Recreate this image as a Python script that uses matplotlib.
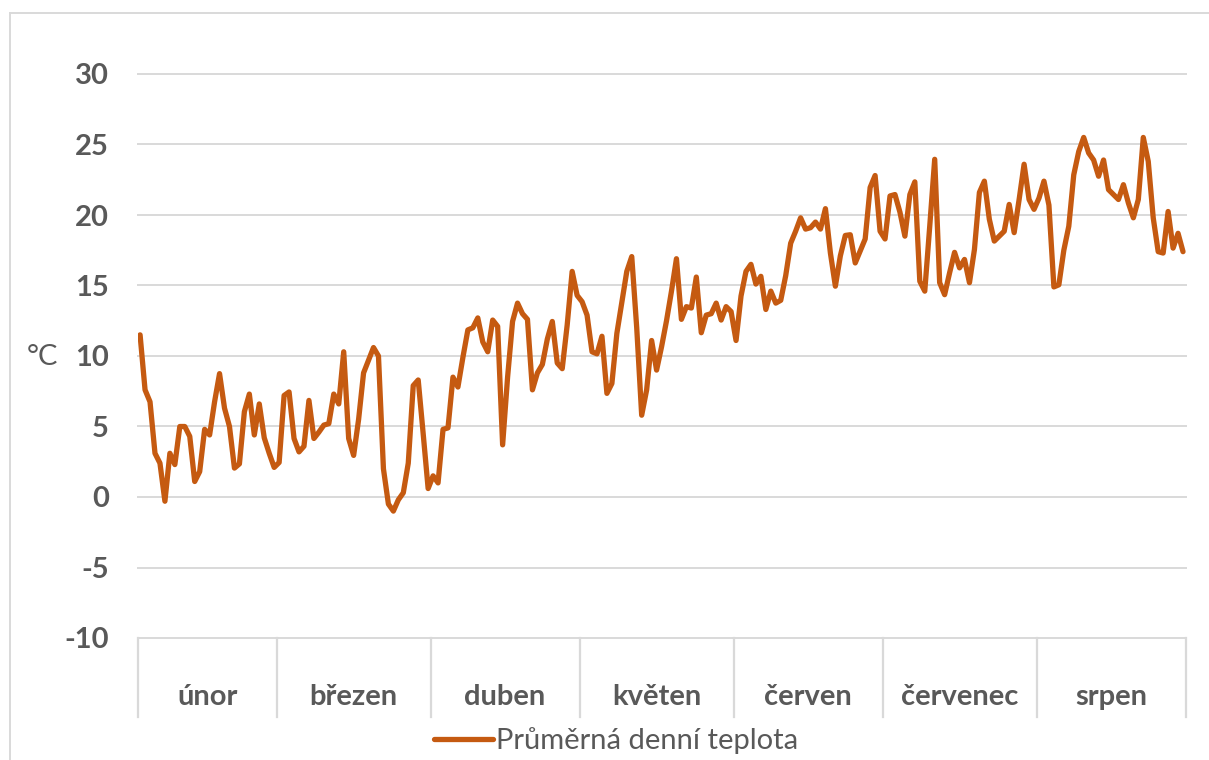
import matplotlib
matplotlib.use("Agg")
import matplotlib.pyplot as plt
import numpy as np
from matplotlib.transforms import blended_transform_factory

plt.rcParams['font.family'] = ['Lato', 'DejaVu Sans']

# ---- data ----
months = ["únor", "březen", "duben", "květen", "červen", "červenec", "srpen"]
feb = [11.5, 7.6, 6.75, 3.1, 2.4, -0.3, 3.1, 2.3, 5.0, 5.0, 4.3, 1.1, 1.8, 4.8,
       4.4, 6.75, 8.75, 6.3, 5.0, 2.05, 2.35, 6.05, 7.3, 4.4, 6.6, 4.2, 3.1, 2.1]
mar = [2.45, 7.2, 7.45, 4.15, 3.2, 3.6, 6.85, 4.15, 4.6, 5.1, 5.2, 7.3, 6.6, 10.3,
       4.15, 2.95, 5.5, 8.8, 9.7, 10.6, 10.0, 2.0, -0.5, -1.0, -0.2, 0.3, 2.4, 7.9,
       8.3, 4.5, 0.6]
apr = [1.5, 1.0, 4.8, 4.9, 8.5, 7.8, 9.9, 11.85, 12.0, 12.7, 11.0, 10.3, 12.55, 12.1,
       3.7, 8.5, 12.45, 13.75, 13.0, 12.6, 7.6, 8.8, 9.4, 11.2, 12.45, 9.5, 9.1, 12.2,
       16.0, 14.3]
may = [13.85, 12.9, 10.3, 10.15, 11.4, 7.35, 8.05, 11.6, 13.8, 16.0, 17.05, 12.0, 5.8,
       7.6, 11.1, 9.0, 10.65, 12.5, 14.6, 16.9, 12.6, 13.5, 13.4, 15.6, 11.65, 12.9,
       13.0, 13.75, 12.55, 13.5, 13.15]
jun = [11.1, 14.25, 16.0, 16.5, 15.1, 15.65, 13.3, 14.6, 13.75, 13.95, 15.7, 18.0,
       18.85, 19.8, 19.0, 19.1, 19.5, 19.0, 20.45, 17.3, 14.95, 17.1, 18.55, 18.6,
       16.6, 17.45, 18.3, 21.95, 22.8, 18.85]
jul = [18.3, 21.35, 21.45, 20.2, 18.5, 21.45, 22.35, 15.3, 14.6, 19.2, 23.95, 15.2,
       14.35, 15.9, 17.35, 16.25, 16.85, 15.2, 17.55, 21.6, 22.4, 19.7, 18.15, 18.5,
       18.85, 20.75, 18.75, 21.1, 23.6, 21.1, 20.4]
aug = [21.2, 22.4, 20.7, 14.9, 15.05, 17.5, 19.2, 22.85, 24.5, 25.5, 24.4, 23.9, 22.75,
       23.9, 21.8, 21.45, 21.1, 22.15, 20.85, 19.8, 21.1, 25.5, 23.8, 19.8, 17.4, 17.3,
       20.25, 17.65, 18.7, 17.4]
series_name = "Průměrná denní teplota"
y_ticks = [-10, -5, 0, 5, 10, 15, 20, 25, 30]
y_unit = "°C"

month_data = [feb, mar, apr, may, jun, jul, aug]
values = np.concatenate(month_data)
month_lengths = [len(m) for m in month_data]

# ---- styling ----
LINE_C = '#C55A11'
GRID_C = '#D9D9D9'
TEXT_C = '#595959'
FS = 21

W, H = 1209, 760
fig = plt.figure(figsize=(W / 100, H / 100), dpi=100)
ax = fig.add_axes([137.6 / W, 1 - 638 / H, (1185.5 - 137.6) / W, (638 - 74) / H])

x = np.arange(len(values))
line, = ax.plot(x, values, color=LINE_C, lw=3.8, solid_joinstyle='round',
                solid_capstyle='round', zorder=3, label=series_name)

ax.set_xlim(-0.5, len(values) - 0.5)
ax.set_ylim(y_ticks[0], y_ticks[-1])
ax.set_yticks(y_ticks)
ax.set_yticklabels([str(t) for t in y_ticks])
for t in y_ticks:
    ax.axhline(t, color=GRID_C, lw=1.4, zorder=1, clip_on=False)
for s in ax.spines.values():
    s.set_visible(False)
ax.set_xticks([])
ax.tick_params(axis='y', length=0, pad=20.5, labelsize=FS, labelcolor=TEXT_C)
for lab in ax.get_yticklabels():
    lab.set_fontweight('bold')

# category box with month labels
trans = blended_transform_factory(ax.transData, ax.transAxes)
bounds = np.concatenate([[0], np.cumsum(month_lengths)]) - 0.5
box_h = (717 - 638) / (638 - 74)
for b in bounds:
    ax.plot([b, b], [0, -box_h], transform=trans, color=GRID_C, lw=1.6,
            clip_on=False, zorder=1)
lab_y = -(697 - 638) / (638 - 74)
for i, name in enumerate(months):
    ax.text((bounds[i] + bounds[i + 1]) / 2, lab_y, name, transform=trans,
            ha='center', va='center', fontsize=FS, fontweight='bold', color=TEXT_C)

# unit label
fig.text(43 / W, 1 - 357 / H, y_unit, ha='center', va='center', fontsize=FS,
         color=TEXT_C)

# legend
fig.legend(handles=[line], labels=[series_name], loc='center',
           bbox_to_anchor=(616 / W, 1 - 741 / H), frameon=False, fontsize=FS,
           handlelength=2.0, handletextpad=0.1, labelcolor=TEXT_C,
           borderpad=0, borderaxespad=0)

# outer chart border (left and top visible)
fig.add_artist(plt.Line2D([10 / W, 10 / W], [0, 1 - 13 / H], color=GRID_C, lw=1.4,
                          transform=fig.transFigure))
fig.add_artist(plt.Line2D([10 / W, 1], [1 - 13 / H, 1 - 13 / H], color=GRID_C, lw=1.4,
                          transform=fig.transFigure))

fig.savefig('out.png', dpi=100)
